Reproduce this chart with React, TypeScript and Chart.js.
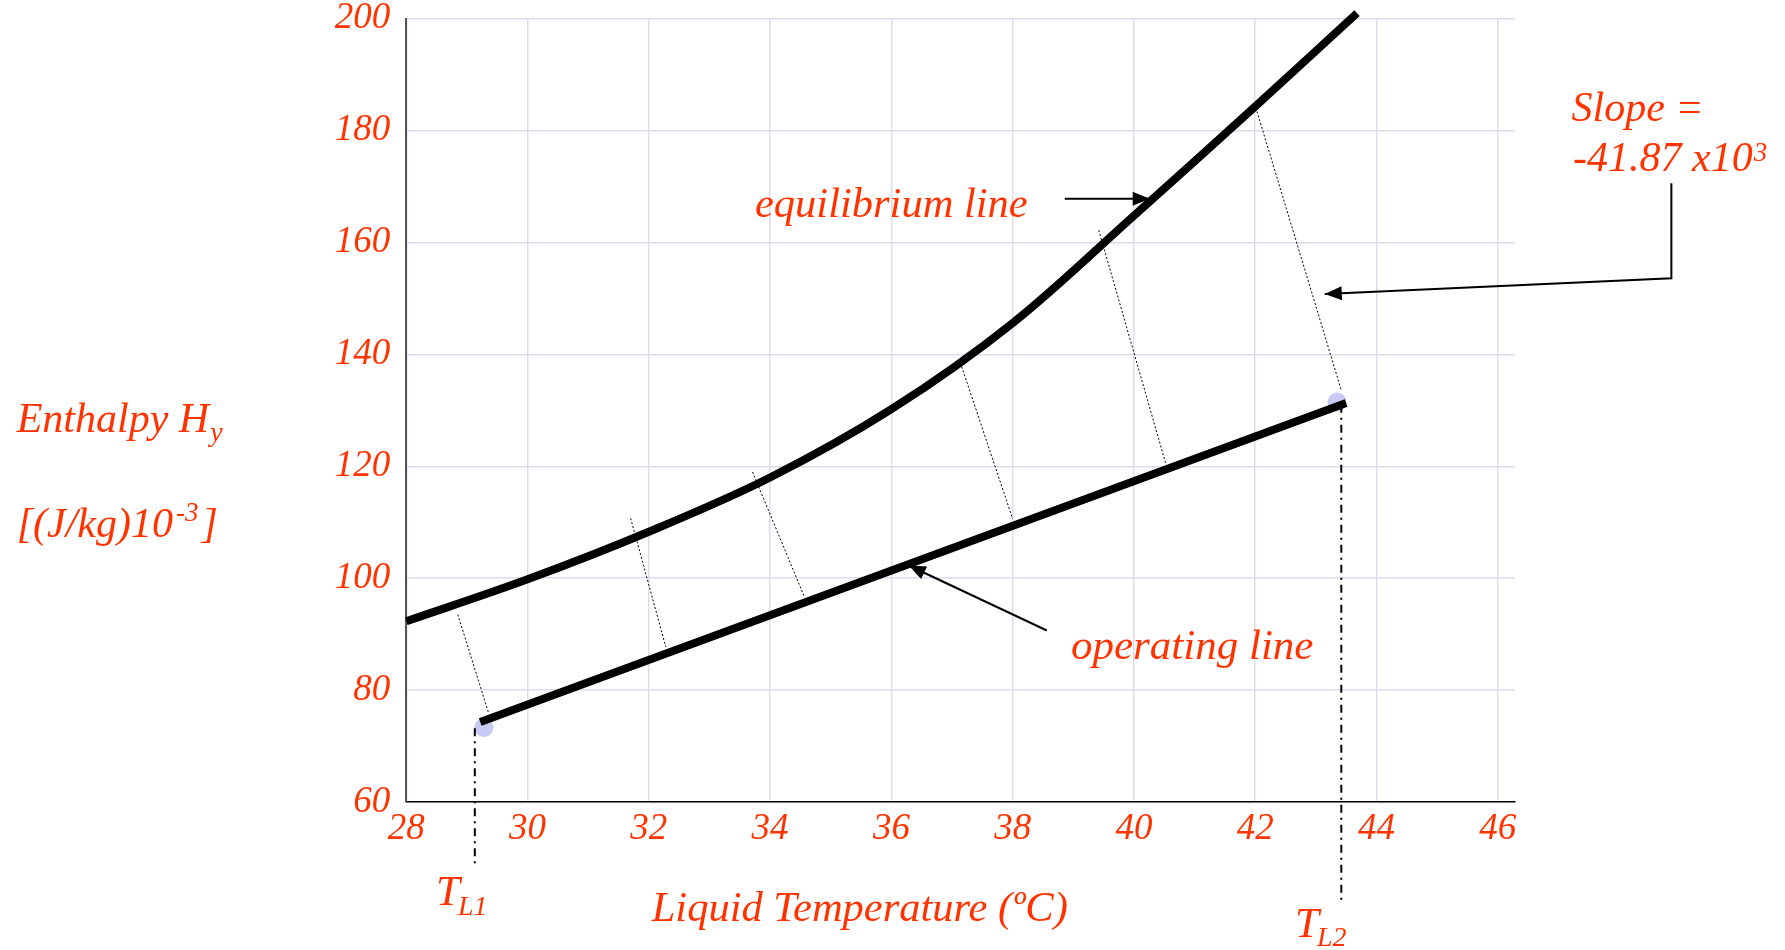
import React, { useEffect, useRef } from 'react';
import { Chart, registerables } from 'chart.js';

Chart.register(...registerables);

// ---- data ----
const eqT = [28, 30, 32, 34, 36, 38, 40, 42, 43.68];
const eqH = [92.3, 99.8, 108.3, 118.0, 130.2, 145.6, 164.8, 184.3, 201];
const opT = [29.22, 43.5];
const opH = [74.3, 131.3];
const endT = [29.28, 43.35];
const endH = [73.3, 131.5];
const tieTopT = [28.85, 31.7, 33.71, 37.16, 39.42, 42.03];
const tieTopH = [93.5, 110.7, 119.0, 137.8, 162.2, 183.4];
const tieBotT = [29.36, 32.28, 34.56, 38.0, 40.53, 43.42];
const tieBotH = [75.8, 87.7, 96.8, 110.6, 120.3, 133.6];
const markT = [29.13, 43.42];
const markTopH = [73.2, 131.0];
const markBotH = [48.2, 42.5];
const xTickLabels = ['28', '30', '32', '34', '36', '38', '40', '42', '44', '46'];
const yTickLabels = ['60', '80', '100', '120', '140', '160', '180', '200'];

// annotation arrows (data coordinates)
const eqArrowT = [38.86, 40.26];
const eqArrowH = [167.8, 167.8];
const opArrowT = [38.564, 36.286];
const opArrowH = [90.65, 102.27];
const slopeArrowT = [48.864, 48.864, 43.148];
const slopeArrowH = [170.58, 153.6, 150.8];

const RED = '#ff3300';
const FONT = '"Liberation Serif", "Times New Roman", serif';

function drawArrow(ctx: any, pts: number[][], head = true) {
  ctx.beginPath();
  ctx.moveTo(pts[0][0], pts[0][1]);
  for (let i = 1; i < pts.length; i++) ctx.lineTo(pts[i][0], pts[i][1]);
  ctx.stroke();
  if (!head) return;
  const [x2, y2] = pts[pts.length - 1];
  const [x1, y1] = pts[pts.length - 2];
  const a = Math.atan2(y2 - y1, x2 - x1);
  const L = 17, W = 7;
  ctx.beginPath();
  ctx.moveTo(x2, y2);
  ctx.lineTo(x2 - L * Math.cos(a) + W * Math.sin(a), y2 - L * Math.sin(a) - W * Math.cos(a));
  ctx.lineTo(x2 - L * Math.cos(a) - W * Math.sin(a), y2 - L * Math.sin(a) + W * Math.cos(a));
  ctx.closePath();
  ctx.fill();
}

function txt(ctx: any, s: string, x: number, y: number, size: number) {
  ctx.font = `italic ${size}px ${FONT}`;
  ctx.fillText(s, x, y);
  return ctx.measureText(s).width;
}

const annotationPlugin = {
  id: 'annotations',
  afterDraw(chart: any) {
    const { ctx } = chart;
    const xs = chart.scales.x;
    const ys = chart.scales.y;
    const P = (T: number[], H: number[]) => T.map((t, i) => [xs.getPixelForValue(t), ys.getPixelForValue(H[i])]);
    ctx.save();
    ctx.strokeStyle = '#000';
    ctx.fillStyle = '#000';
    ctx.lineWidth = 2;
    drawArrow(ctx, P(eqArrowT, eqArrowH));
    drawArrow(ctx, P(opArrowT, opArrowH));
    drawArrow(ctx, P(slopeArrowT, slopeArrowH));

    ctx.fillStyle = RED;
    ctx.textBaseline = 'alphabetic';
    ctx.textAlign = 'left';
    txt(ctx, 'equilibrium line', 755, 216.5, 42.5);
    txt(ctx, 'operating line', 1071, 659, 43);
    txt(ctx, 'Slope =', 1571.5, 120.5, 42);
    let w = txt(ctx, '-41.87 x10', 1573, 170.5, 42);
    txt(ctx, '3', 1573 + w + 1, 161, 27);

    // y title
    w = txt(ctx, 'Enthalpy H', 16.7, 431.7, 42);
    txt(ctx, 'y', 16.7 + w + 1, 441, 28);
    w = txt(ctx, '[(J/kg)10', 16.7, 536.7, 42);
    const w2 = txt(ctx, '-3', 16.7 + w + 3, 521, 27);
    txt(ctx, ']', 16.7 + w + 3 + w2 + 3, 536.7, 42);

    // x title
    txt(ctx, 'Liquid Temperature (\u00baC)', 651.7, 921, 42.5);

    // T_L1 / T_L2
    w = txt(ctx, 'T', 436, 905, 43);
    txt(ctx, 'L1', 436 + w - 2, 915, 28);
    w = txt(ctx, 'T', 1295, 937, 43);
    txt(ctx, 'L2', 1295 + w - 2, 946, 28);
    ctx.restore();
  },
};

export default function App() {
  const ref = useRef<HTMLCanvasElement | null>(null);

  useEffect(() => {
    if (!ref.current) return;
    const pts = (T: number[], H: number[]) => T.map((t, i) => ({ x: t, y: H[i] }));
    const datasets: any[] = [
      {
        data: pts(eqT, eqH),
        showLine: true,
        borderColor: '#000',
        borderWidth: 8,
        pointRadius: 0,
        tension: 0.35,
        clip: false,
        order: 0,
      },
      {
        data: pts(opT, opH),
        showLine: true,
        borderColor: '#000',
        borderWidth: 8,
        pointRadius: 0,
        order: 0,
      },
      {
        data: pts(endT, endH),
        showLine: false,
        pointRadius: 9.5,
        pointBackgroundColor: '#c9c9f5',
        pointBorderWidth: 0,
        borderColor: 'rgba(0,0,0,0)',
        order: 10,
      },
    ];
    tieTopT.forEach((t, i) => {
      datasets.push({
        data: [
          { x: t, y: tieTopH[i] },
          { x: tieBotT[i], y: tieBotH[i] },
        ],
        showLine: true,
        borderColor: '#000',
        borderWidth: 1,
        borderDash: [2, 2],
        pointRadius: 0,
        order: 5,
      });
    });
    markT.forEach((t, i) => {
      datasets.push({
        data: [
          { x: t, y: markTopH[i] },
          { x: t, y: markBotH[i] },
        ],
        showLine: true,
        borderColor: '#000',
        borderWidth: 2,
        borderDash: [8, 5, 2, 5],
        pointRadius: 0,
        clip: false,
        order: 6,
      });
    });

    const chart = new Chart(ref.current, {
      type: 'scatter',
      data: { datasets },
      options: {
        animation: false,
        responsive: false,
        events: [],
        layout: { padding: { left: 0, top: 18.7, right: 270, bottom: 0 } },
        plugins: { legend: { display: false }, tooltip: { enabled: false } },
        scales: {
          x: {
            type: 'linear',
            position: 'bottom',
            min: 28,
            max: 46.285,
            afterFit: (s: any) => {
              s.height = 148;
              s.paddingLeft = 0;
              s.paddingRight = 0;
            },
            grid: { color: '#dcdcf0', lineWidth: 1.5, drawTicks: false },
            border: { color: '#000', width: 1.5 },
            ticks: {
              stepSize: 2,
              includeBounds: false,
              padding: 9,
              color: RED,
              font: { family: FONT, size: 37, style: 'italic', lineHeight: 1 },
              callback: (v: any) => {
                const s = String(Math.round(v));
                return xTickLabels.includes(s) ? s : '';
              },
            },
          },
          y: {
            type: 'linear',
            min: 60,
            max: 200,
            afterFit: (s: any) => {
              s.width = 406.3;
              s.paddingTop = 0;
              s.paddingBottom = 0;
            },
            grid: { color: '#dcdcf0', lineWidth: 1.5, drawTicks: false },
            border: { color: '#555', width: 2 },
            ticks: {
              stepSize: 20,
              padding: 16,
              color: RED,
              font: { family: FONT, size: 37, style: 'italic', lineHeight: 1 },
              callback: (v: any) => {
                const s = String(Math.round(v));
                return yTickLabels.includes(s) ? s : '';
              },
            },
          },
        },
      } as any,
      plugins: [annotationPlugin],
    });
    return () => chart.destroy();
  }, []);

  return (
    <div style={{ position: 'absolute', left: 0, top: 0, width: 1785, height: 950, background: '#fff' }}>
      <canvas ref={ref} width={1785} height={950} style={{ display: 'block' }} />
    </div>
  );
}
